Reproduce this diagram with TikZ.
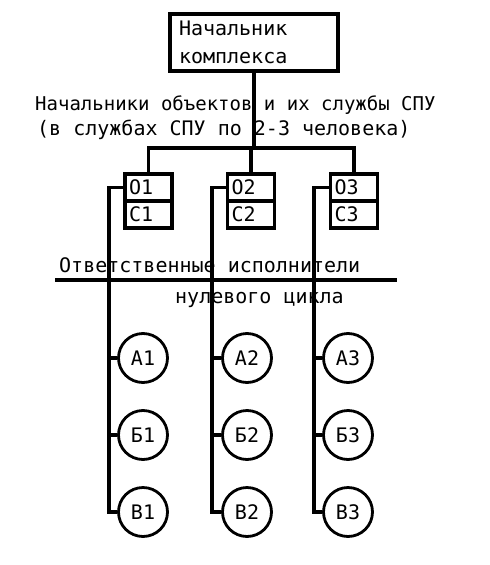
\documentclass[tikz,border=0pt]{standalone}
\usepackage{fontspec}
\setmainfont{DejaVu Sans Mono}
\usepackage{tikz}
\usetikzlibrary{positioning}

\begin{document}
\begin{tikzpicture}[
        x=1pt, y=-1pt,
        every node/.style={font=\fontsize{20}{28}\selectfont, inner sep=0pt},
        wire/.style={line width=3.2pt},
        chiefbox/.style={draw, line width=3.2pt, minimum width=168pt, minimum height=57pt, text width=150pt, align=left},
        cellbox/.style={draw, line width=3.2pt, minimum width=47pt, minimum height=27pt, text width=39pt, align=left},
        worker/.style={draw, circle, line width=2.8pt, minimum size=49pt}
    ]
        \useasboundingbox (0,0) rectangle (490,565);

        \node[chiefbox] (chief) at (254,42.5) {Начальник\\комплекса};

        % objects and their SPU services
        \foreach \i/\x in {1/148.5, 2/251, 3/354} {
            \node[cellbox] (o\i) at (\x,187.5) {О\i};
            \node[cellbox, below=-3.2pt of o\i] (c\i) {С\i};
        }

        % performers
        \foreach \i/\x in {1/143, 2/247, 3/348} {
            \node[worker] (a\i) at (\x,358) {А\i};
            \node[worker] (b\i) at (\x,435) {Б\i};
            \node[worker] (v\i) at (\x,512) {В\i};
        }

        \coordinate (hub) at (254,148);
        \draw[wire] (chief) -- (hub);
        \draw[wire] (o1.north) |- (hub) -| (o3.north);
        \draw[wire] (hub -| o2.north) -- (o2.north);

        \foreach \i/\x in {1/109, 2/212, 3/314} {
            \coordinate (bus\i) at (\x,512);
            \draw[wire] (o\i.west) -| (bus\i) -- (v\i.west);
            \draw[wire] (a\i.west) -- (a\i.west -| bus\i);
            \draw[wire] (b\i.west) -- (b\i.west -| bus\i);
        }

        \node[anchor=base west, font=\fontsize{19}{28}\selectfont] (heads) at (35,110) {Начальники объектов и их службы СПУ};
        \node[anchor=base west] (staff) at (37,135) {(в службах СПУ по 2-3 человека)};

        \node[anchor=base west] (resp) at (59,272) {Ответственные исполнители};
        \node[anchor=base west] (zero) at (175,303) {нулевого цикла};
        \draw[wire] (55,280) -- (397,280);
    \end{tikzpicture}
\end{document}
